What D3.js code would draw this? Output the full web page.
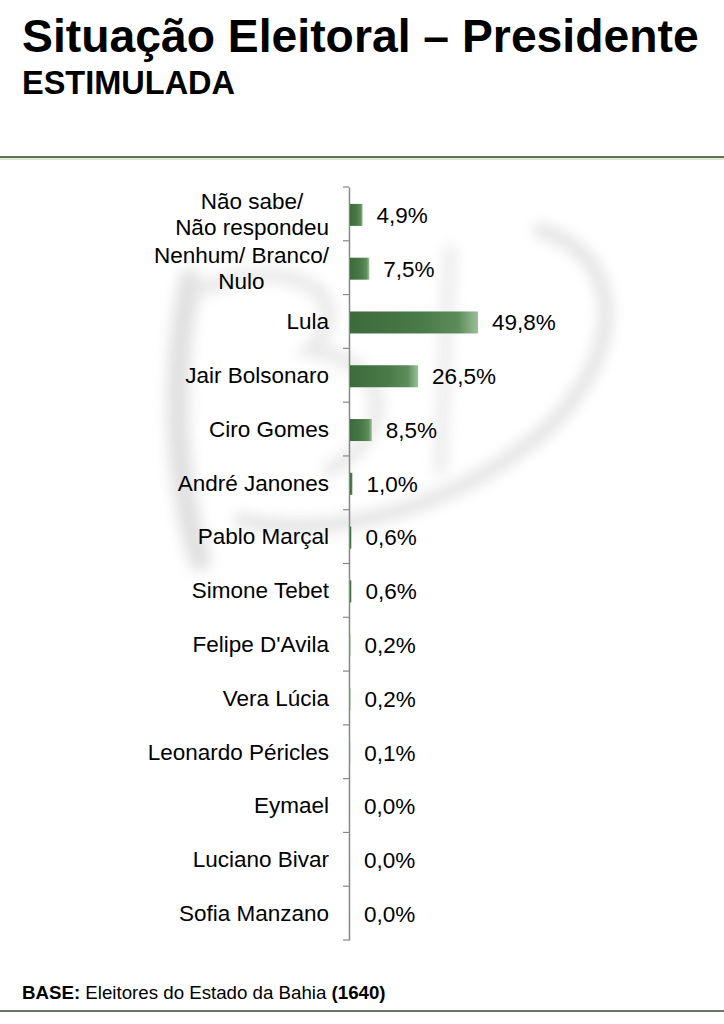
<!DOCTYPE html>
<html><head><meta charset="utf-8">
<script src="https://cdn.jsdelivr.net/npm/d3@7/dist/d3.min.js"></script>
<style>body{margin:0;background:#fff}svg{display:block}text{font-family:"Liberation Sans",Arial,sans-serif}</style>
</head><body><svg id="c" width="724" height="1024"></svg>
<script>
const categories = ["Não sabe/\nNão respondeu","Nenhum/ Branco/\nNulo","Lula","Jair Bolsonaro","Ciro Gomes","André Janones","Pablo Marçal","Simone Tebet","Felipe D'Avila","Vera Lúcia","Leonardo Péricles","Eymael","Luciano Bivar","Sofia Manzano"];
const values = [4.9,7.5,49.8,26.5,8.5,1.0,0.6,0.6,0.2,0.2,0.1,0.0,0.0,0.0];
const valueLabels = ["4,9%","7,5%","49,8%","26,5%","8,5%","1,0%","0,6%","0,6%","0,2%","0,2%","0,1%","0,0%","0,0%","0,0%"];
const title = "Situação Eleitoral – Presidente";
const subtitle = "ESTIMULADA";

const svg = d3.select("#c");
const defs = svg.append("defs");
const g1 = defs.append("linearGradient").attr("id","bar").attr("x1","0").attr("x2","1").attr("y1","0").attr("y2","0");
g1.append("stop").attr("offset","0").attr("stop-color","#3d6a3c");
g1.append("stop").attr("offset","0.55").attr("stop-color","#4a7a48");
g1.append("stop").attr("offset","0.85").attr("stop-color","#5e8d5c");
g1.append("stop").attr("offset","1").attr("stop-color","#9cc09a");
const blur = defs.append("filter").attr("id","blur").attr("x","-50%").attr("y","-50%").attr("width","200%").attr("height","200%");
blur.append("feGaussianBlur").attr("stdDeviation","7");

// faint watermark
const wm = svg.append("g").attr("filter","url(#blur)").attr("fill","none").attr("stroke","#dadada").attr("stroke-linecap","round").attr("opacity",0.85);
wm.append("path").attr("d","M190 280 C170 380 175 480 200 560").attr("stroke-width",22);
wm.append("path").attr("d","M200 290 C300 250 360 300 310 350 C390 360 400 430 330 470").attr("stroke-width",14).attr("stroke","#e4e4e4");
wm.append("path").attr("d","M540 230 C640 260 620 380 520 450 C440 510 330 540 240 520").attr("stroke-width",14).attr("stroke","#dedede");
wm.append("path").attr("d","M450 250 L440 470").attr("stroke-width",12).attr("stroke","#e6e6e6");

svg.append("text").attr("x",22).attr("y",52).attr("font-size",46.3).attr("font-weight","bold").attr("fill","#000").text(title);
svg.append("text").attr("x",22).attr("y",94).attr("font-size",32.5).attr("font-weight","bold").attr("fill","#000").text(subtitle);

svg.append("rect").attr("x",0).attr("y",156).attr("width",724).attr("height",2).attr("fill","#62744f");
svg.append("rect").attr("x",0).attr("y",158).attr("width",724).attr("height",2).attr("fill","#dfe6d6");

const x0 = 350;
const x = d3.scaleLinear().domain([0,49.8]).range([x0,478]);
const yTicks = d3.scaleBand().domain(categories).range([187,940]);

// axis line and ticks
const ax = svg.append("g").attr("transform",`translate(${x0-1},0)`);
ax.call(d3.axisLeft(yTicks).tickSize(0).tickFormat(""));
ax.select(".domain").attr("stroke","#888").attr("stroke-width",1.5);
const tickPos = categories.map(c=>yTicks(c)).concat([940]);
svg.append("g").selectAll("line").data(tickPos).join("line")
  .attr("x1",x0-7).attr("x2",x0-1).attr("y1",d=>d).attr("y2",d=>d)
  .attr("stroke","#888").attr("stroke-width",1.2);

const bw = 22;
svg.append("g").selectAll("rect").data(values).join("rect")
  .attr("x",x0).attr("y",(d,i)=>yTicks(categories[i])+yTicks.bandwidth()/2-bw/2+1)
  .attr("width",d=>Math.max(0,x(d)-x0)).attr("height",bw)
  .attr("fill","url(#bar)");

svg.append("g").selectAll("text").data(values).join("text")
  .attr("x",d=>x(d)+14).attr("y",(d,i)=>yTicks(categories[i])+yTicks.bandwidth()/2+1)
  .attr("dy","0.35em").attr("font-size",22.5).attr("fill","#000")
  .text((d,i)=>valueLabels[i]);

const labelRight = 329;
const cl = svg.append("g").selectAll("text").data(categories).join("text")
  .attr("text-anchor","end").attr("font-size",22.5).attr("fill","#000")
  .attr("y",d=>yTicks(d)+yTicks.bandwidth()/2);
cl.each(function(d){
  const lines = d.split("\n");
  const t = d3.select(this);
  const spans = lines.map((ln,j)=> t.append("tspan").attr("x",labelRight)
     .attr("dy", j===0 ? (0.35 - (lines.length-1)*0.58)+"em" : "1.16em").text(ln));
  if (lines.length > 1) {
    const maxW = d3.max(spans, s => s.node().getComputedTextLength());
    t.attr("text-anchor","middle");
    spans.forEach(s => s.attr("x", labelRight - maxW/2));
  }
});

svg.append("rect").attr("x",0).attr("y",1010).attr("width",724).attr("height",2).attr("fill","#6c7562");
const ft = svg.append("text").attr("x",22).attr("y",999).attr("font-size",18.7).attr("fill","#000");
ft.append("tspan").attr("font-weight","bold").text("BASE:");
ft.append("tspan").text(" Eleitores do Estado da Bahia ");
ft.append("tspan").attr("font-weight","bold").text("(1640)");
</script></body></html>
